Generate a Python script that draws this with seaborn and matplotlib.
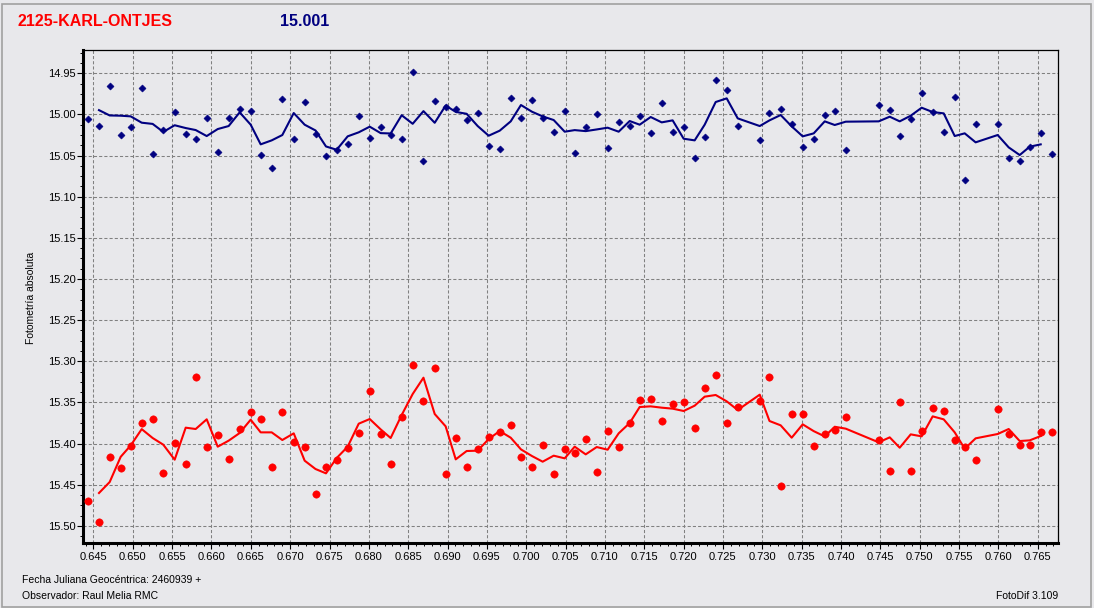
import numpy as np
import pandas as pd
import matplotlib
matplotlib.use("Agg")
import matplotlib.pyplot as plt
import seaborn as sns
from matplotlib.ticker import MultipleLocator, FormatStrFormatter
from matplotlib.patches import Rectangle

# ---------------- data ----------------
jd_offset = [
    0.64426, 0.64570, 0.64706, 0.64846, 0.64973, 0.65113, 0.65252, 0.65387, 0.65532, 0.65672,
    0.65799, 0.65939, 0.66079, 0.66218, 0.66358, 0.66498, 0.66625, 0.66765, 0.66900, 0.67045,
    0.67184, 0.67322, 0.67455, 0.67591, 0.67731, 0.67871, 0.68011, 0.68150, 0.68277, 0.68417,
    0.68557, 0.68694, 0.68837, 0.68976, 0.69104, 0.69243, 0.69383, 0.69523, 0.69663, 0.69803,
    0.69933, 0.70073, 0.70209, 0.70349, 0.70489, 0.70616, 0.70756, 0.70896, 0.71035, 0.71175,
    0.71315, 0.71442, 0.71582, 0.71722, 0.71861, 0.72001, 0.72141, 0.72268, 0.72408, 0.72548,
    0.72688, 0.72968, 0.73092, 0.73234, 0.73374, 0.73514, 0.73654, 0.73794, 0.73921, 0.74061,
    0.74480, 0.74620, 0.74747, 0.74887, 0.75026, 0.75166, 0.75306, 0.75446, 0.75573, 0.75712,
    0.75992, 0.76132, 0.76272, 0.76399, 0.76539, 0.76678,
]

comp_mag = [
    15.0052, 15.0140, 14.9651, 15.0246, 15.0149, 14.9675, 15.0477, 15.0193, 14.9967, 15.0234,
    15.0295, 15.0040, 15.0453, 15.0040, 14.9930, 14.9954, 15.0489, 15.0647, 14.9809, 15.0295,
    14.9845, 15.0234, 15.0505, 15.0428, 15.0355, 15.0015, 15.0282, 15.0149, 15.0250, 15.0295,
    14.9484, 15.0562, 14.9833, 14.9909, 14.9934, 15.0064, 14.9979, 15.0380, 15.0416, 14.9796,
    15.0040, 14.9821, 15.0040, 15.0210, 14.9954, 15.0465, 15.0152, 14.9991, 15.0404, 15.0088,
    15.0137, 15.0015, 15.0222, 14.9857, 15.0210, 15.0149, 15.0526, 15.0270, 14.9578, 14.9699,
    15.0137, 15.0307, 14.9979, 14.9930, 15.0112, 15.0392, 15.0295, 15.0003, 14.9954, 15.0428,
    14.9882, 14.9942, 15.0258, 15.0052, 14.9736, 14.9967, 15.0210, 14.9784, 15.0793, 15.0112,
    15.0112, 15.0526, 15.0562, 15.0392, 15.0222, 15.0477,
]

var_mag = [
    15.4693, 15.4948, 15.4159, 15.4292, 15.4029, 15.3745, 15.3697, 15.4353, 15.3988, 15.4244,
    15.3186, 15.4037, 15.3891, 15.4183, 15.3818, 15.3612, 15.3697, 15.4280, 15.3612, 15.3976,
    15.4037, 15.4608, 15.4280, 15.4195, 15.4049, 15.3867, 15.3357, 15.3879, 15.4244, 15.3672,
    15.3041, 15.3478, 15.3077, 15.4365, 15.3928, 15.4280, 15.4061, 15.3916, 15.3855, 15.3770,
    15.4159, 15.4280, 15.4013, 15.4365, 15.4061, 15.4110, 15.3940, 15.4341, 15.3843, 15.4037,
    15.3745, 15.3466, 15.3454, 15.3721, 15.3514, 15.3490, 15.3806, 15.3320, 15.3162, 15.3745,
    15.3551, 15.3478, 15.3186, 15.4511, 15.3636, 15.3636, 15.4025, 15.3883, 15.3830, 15.3672,
    15.3952, 15.4329, 15.3490, 15.4329, 15.3843, 15.3563, 15.3600, 15.3952, 15.4037, 15.4195,
    15.3575, 15.3879, 15.4013, 15.4013, 15.3855, 15.3855,
]

star_name = "2125-KARL-ONTJES"
comp_label = "15.001"
x_tick_values = [0.645, 0.650, 0.655, 0.660, 0.665, 0.670, 0.675, 0.680, 0.685, 0.690,
                 0.695, 0.700, 0.705, 0.710, 0.715, 0.720, 0.725, 0.730, 0.735, 0.740,
                 0.745, 0.750, 0.755, 0.760, 0.765]
y_tick_values = [14.95, 15.00, 15.05, 15.10, 15.15, 15.20, 15.25, 15.30, 15.35, 15.40, 15.45, 15.50]
y_label = "Fotometría absoluta"
foot_jd = "Fecha Juliana Geocéntrica: 2460939 +"
foot_obs = "Observador: Raul Melia RMC"
foot_soft = "FotoDif 3.109"

# ---------------- frame ----------------
df = pd.DataFrame({"jd": jd_offset, "comp": comp_mag, "var": var_mag})
df["comp_avg"] = df["comp"].rolling(3, center=True).mean()
df["var_avg"] = df["var"].rolling(3, center=True).mean()
df_line = df.dropna()

plt.rcParams["font.family"] = ["Liberation Sans", "DejaVu Sans"]
bg = "#E8E8EB"
navy = "#000080"
red = "#FF0000"

W, H = 1094, 608
fig = plt.figure(figsize=(W / 100, H / 100), dpi=100, facecolor=bg)
ax = fig.add_axes([82.7 / W, 1 - 543.3 / H, (1057.7 - 82.7) / W, (543.3 - 50) / H])
ax.set_facecolor(bg)

sns.lineplot(data=df_line, x="jd", y="comp_avg", sort=False, estimator=None,
             color=navy, lw=1.5, ax=ax, zorder=3)
sns.lineplot(data=df_line, x="jd", y="var_avg", sort=False, estimator=None,
             color=red, lw=1.5, ax=ax, zorder=3)
sns.scatterplot(data=df, x="jd", y="comp", marker="D", s=13, color=navy,
                edgecolor=navy, linewidth=0.4, ax=ax, zorder=4)
sns.scatterplot(data=df, x="jd", y="var", marker="o", s=28, color=red,
                edgecolor=red, linewidth=0.4, ax=ax, zorder=4)

ax.set_xlim(0.64363, 0.76755)
ax.set_ylim(15.5211, 14.9217)

ax.set_xticks(x_tick_values)
ax.set_yticks(y_tick_values)
ax.xaxis.set_major_formatter(FormatStrFormatter("%.3f"))
ax.yaxis.set_major_formatter(FormatStrFormatter("%.2f"))
ax.xaxis.set_minor_locator(MultipleLocator(0.001))
ax.yaxis.set_minor_locator(MultipleLocator(0.0125))
ax.tick_params(axis="both", which="major", direction="out", length=4.5, width=0.8,
               labelsize=8, colors="black", pad=1.5)
ax.tick_params(axis="both", which="minor", direction="out", length=2.5, width=0.7,
               colors="black")
ax.tick_params(axis="y", which="major", pad=0.5)

ax.grid(True, which="major", color="#808080", lw=0.75, ls=(0, (3, 2)))
ax.set_axisbelow(True)

for side in ["left", "bottom"]:
    ax.spines[side].set_linewidth(2.2)
for side in ["top", "right"]:
    ax.spines[side].set_linewidth(0.9)
for s in ax.spines.values():
    s.set_color("black")

ax.set_xlabel("")
ax.set_ylabel("")
fig.text(31 / W, 1 - 298 / H, y_label, rotation=90, ha="center", va="center", fontsize=7.5)

fig.text(18 / W, 1 - 25.7 / H, star_name, color=red, fontsize=11.5, fontweight="bold",
         ha="left", va="baseline")
fig.text(280 / W, 1 - 25.7 / H, comp_label, color=navy, fontsize=11.5, fontweight="bold",
         ha="left", va="baseline")

fig.text(22.5 / W, 1 - 583 / H, foot_jd, fontsize=7.5, ha="left", va="baseline")
fig.text(22.5 / W, 1 - 599 / H, foot_obs, fontsize=7.5, ha="left", va="baseline")
fig.text(1058.5 / W, 1 - 599 / H, foot_soft, fontsize=7.5, ha="right", va="baseline")

# window-like outer border
fig.patches.append(Rectangle((1.5 / W, 1.5 / H), (W - 4.5) / W, (H - 5) / H,
                             transform=fig.transFigure, fill=False,
                             edgecolor="#A0A0A0", lw=1.2))

fig.savefig("out.png", dpi=100, facecolor=bg)
